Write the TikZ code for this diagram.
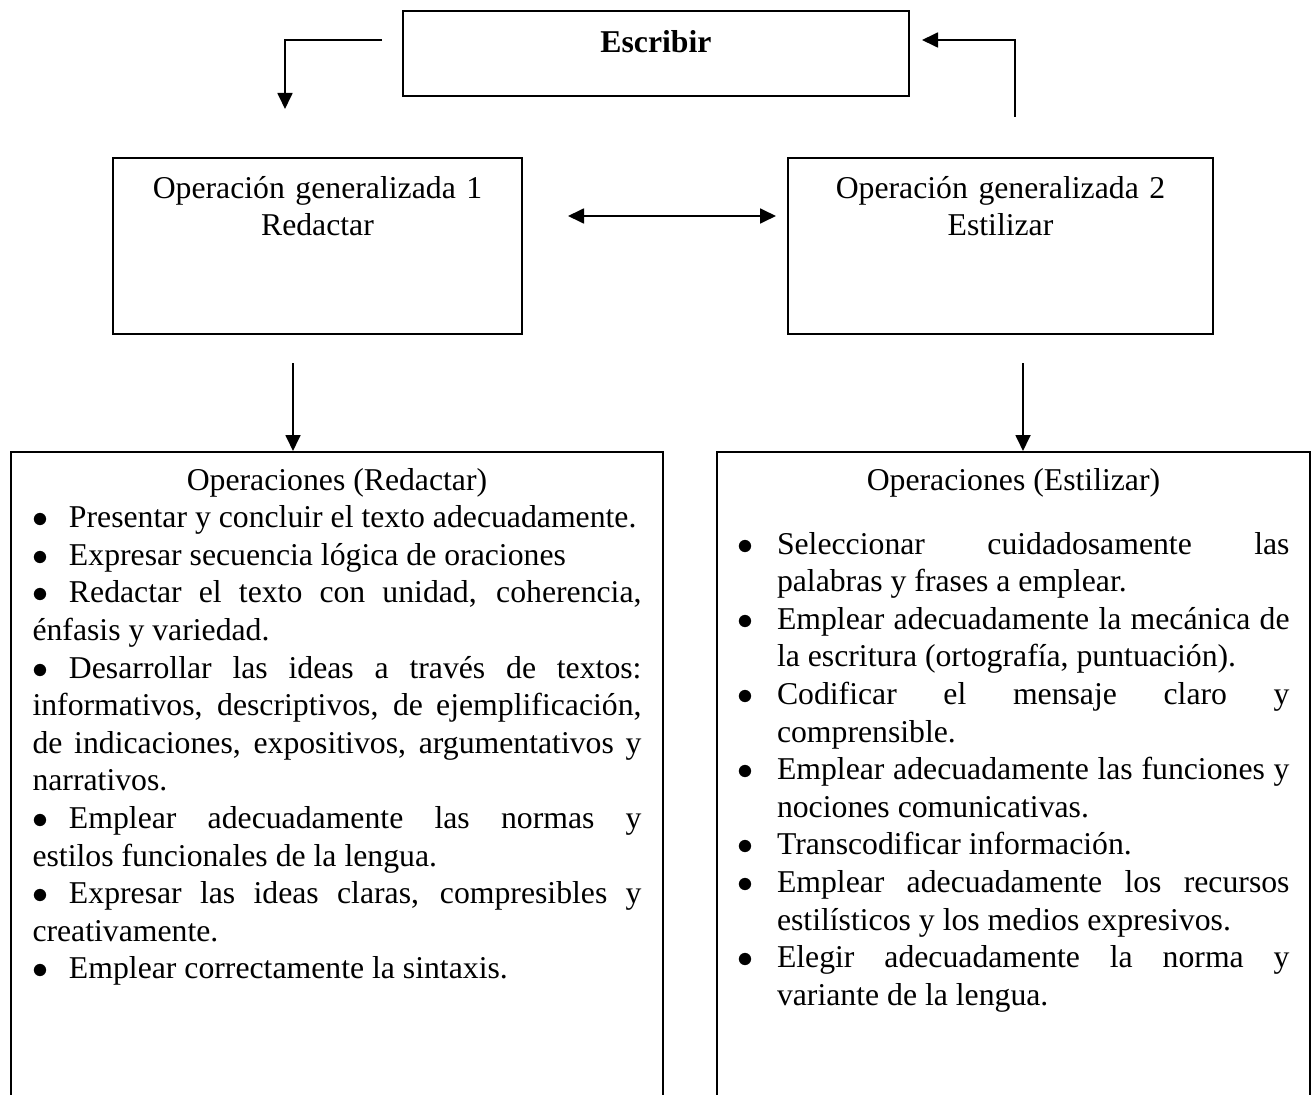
\documentclass[tikz,border=0pt]{standalone}
\usepackage{fontspec}
\setmainfont{Liberation Serif}
\usetikzlibrary{arrows.meta}
\newcommand{\vineta}{\noindent\makebox[13.6875pt][l]{$\bullet$}}
\newcommand{\vinetah}{\hangindent=14.8125pt\hangafter=1\noindent\makebox[14.8125pt][l]{$\bullet$}}

\begin{document}
\begin{tikzpicture}[x=0.375pt,y=-0.375pt]
    \tikzstyle{every node}=[font=\fontsize{11.9}{14.1}\selectfont]
    \tikzstyle{caja}=[draw, line width=0.75pt, rectangle, inner sep=0pt, anchor=north west]
    \tikzstyle{flecha}=[line width=0.75pt, -{Triangle[length=6pt,width=5.6pt]}]
    \useasboundingbox (0,0) rectangle (1314,1095);
    \node[caja, text width=189.75pt, align=center, text height=15.75pt, text depth=16.125pt] (escribir) at (402,10) {\textbf{Escribir}};
    \node[caja, text width=153.375pt, align=center, text height=15pt, text depth=51pt] (op1) at (112,157) {Operación generalizada 1\\Redactar};
    \node[caja, text width=159.375pt, align=center, text height=15pt, text depth=51pt] (op2) at (787,157) {Operación generalizada 2\\Estilizar};
    \node[caja, text width=228.375pt, inner xsep=8.0625pt, align=justify, text height=14.25pt, text depth=262.5pt] (ops1) at (10,451) {
        {\centering Operaciones (Redactar)\par}
        \vineta Presentar y concluir el texto adecuadamente.\par
        \vineta Expresar secuencia lógica de oraciones\par
        \vineta Redactar el texto con unidad, coherencia,\linebreak énfasis y variedad.\par
        \vineta Desarrollar las ideas a través de textos:\linebreak informativos, descriptivos, de ejemplificación,\linebreak de indicaciones, expositivos, argumentativos y\linebreak narrativos.\par
        \vineta Emplear adecuadamente las normas y\linebreak estilos funcionales de la lengua.\par
        \vineta Expresar las ideas claras, compresibles y\linebreak creativamente.\par
        \vineta Emplear correctamente la sintaxis.\par
    };
    \node[caja, text width=207pt, inner xsep=7.6875pt, align=justify, text height=14.25pt, text depth=262.5pt] (ops2) at (716,451) {
        {\centering Operaciones (Estilizar)\par}
        \vspace{9.9pt}
        \vinetah Seleccionar cuidadosamente las\linebreak palabras y frases a emplear.\par
        \vinetah Emplear adecuadamente la mecánica de\linebreak la escritura (ortografía, puntuación).\par
        \vinetah Codificar el mensaje claro y\linebreak comprensible.\par
        \vinetah Emplear adecuadamente las funciones y\linebreak nociones comunicativas.\par
        \vinetah Transcodificar información.\par
        \vinetah Emplear adecuadamente los recursos\linebreak estilísticos y los medios expresivos.\par
        \vinetah Elegir adecuadamente la norma y\linebreak variante de la lengua.\par
    };
    \coordinate (salida1) at (382,40);
    \coordinate (llegada1) at (285,109);
    \draw[flecha] (salida1) -| (llegada1);
    \coordinate (salida2) at (1015,117);
    \coordinate (llegada2) at (922,40);
    \draw[flecha] (salida2) |- (llegada2);
    \coordinate (ida) at (568,216);
    \coordinate (vuelta) at (776,216);
    \draw[flecha, {Triangle[length=6pt,width=5.6pt]}-{Triangle[length=6pt,width=5.6pt]}] (ida) -- (vuelta);
    \coordinate (baja1) at (293,363);
    \draw[flecha] (baja1) -- (baja1 |- ops1.north);
    \coordinate (baja2) at (1023,363);
    \draw[flecha] (baja2) -- (baja2 |- ops2.north);
\end{tikzpicture}
\end{document}
